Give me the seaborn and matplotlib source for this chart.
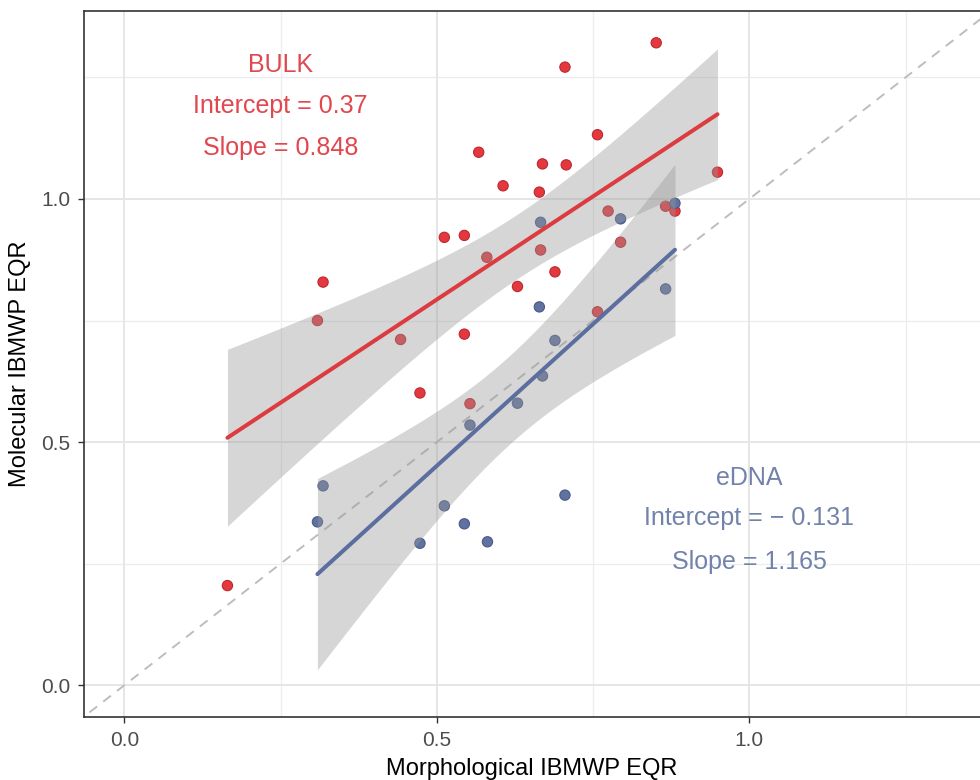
import numpy as np
import pandas as pd
import matplotlib
matplotlib.use("Agg")
import matplotlib.pyplot as plt
import seaborn as sns

# ---- data ----
bulk_morph = [0.165, 0.309, 0.318, 0.442, 0.473, 0.512, 0.544, 0.544, 0.553, 0.567,
              0.580, 0.606, 0.629, 0.664, 0.666, 0.669, 0.689, 0.705, 0.707, 0.757,
              0.757, 0.774, 0.794, 0.851, 0.866, 0.881, 0.949]
bulk_molec = [0.205, 0.750, 0.829, 0.711, 0.601, 0.921, 0.925, 0.722, 0.579, 1.096,
              0.880, 1.027, 0.820, 1.014, 0.895, 1.072, 0.850, 1.271, 1.070, 1.132,
              0.768, 0.975, 0.911, 1.321, 0.985, 0.975, 1.055]
edna_morph = [0.309, 0.318, 0.473, 0.512, 0.544, 0.553, 0.581, 0.629, 0.664, 0.666,
              0.669, 0.689, 0.705, 0.794, 0.866, 0.881]
edna_molec = [0.336, 0.410, 0.292, 0.369, 0.332, 0.535, 0.295, 0.580, 0.778, 0.952,
              0.636, 0.709, 0.391, 0.959, 0.815, 0.991]

groups = ["BULK", "eDNA"]
labels = {
    "BULK": ["BULK", "Intercept = 0.37", "Slope = 0.848"],
    "eDNA": ["eDNA", "Intercept = \u2212 0.131", "Slope = 1.165"],
}

point_col = {"BULK": "#E4383E", "eDNA": "#5F72A2"}
edge_col = {"BULK": "#B82A30", "eDNA": "#4A5A85"}
line_col = {"BULK": "#DC3C40", "eDNA": "#5B6E9F"}
text_col = {"BULK": "#E0474E", "eDNA": "#7282AB"}

df = pd.DataFrame({
    "morph": bulk_morph + edna_morph,
    "molec": bulk_molec + edna_molec,
    "method": ["BULK"] * len(bulk_morph) + ["eDNA"] * len(edna_morph),
})

sns.set_theme(style="white")
plt.rcParams["font.family"] = ["Liberation Sans", "DejaVu Sans"]

fig = plt.figure(figsize=(9.8, 7.8), dpi=100)
ax = fig.add_axes([84.3 / 980, 1 - 716.7 / 780, 1 - 84.3 / 980, (716.7 - 10.7) / 780])

xlim = (-0.064, 1.369)
ylim = (-0.0646, 1.387)
ax.set_xlim(*xlim)
ax.set_ylim(*ylim)

# grid
for v in [0.25, 0.75, 1.25]:
    ax.axvline(v, color="#EDEDED", lw=0.9, zorder=0)
    ax.axhline(v, color="#EDEDED", lw=0.9, zorder=0)
for v in [0.0, 0.5, 1.0]:
    ax.axvline(v, color="#E6E6E6", lw=1.4, zorder=0)
    ax.axhline(v, color="#E6E6E6", lw=1.4, zorder=0)

# identity line
ax.plot([-0.1, 1.5], [-0.1, 1.5], ls=(0, (5, 4)), color="#BDBDBD", lw=1.4, zorder=1.5)

# points
sns.scatterplot(data=df, x="morph", y="molec", hue="method", palette=point_col,
                s=55, linewidth=0.8, edgecolor=None, legend=False, ax=ax, zorder=2)
coll = ax.collections[-1]
coll.set_edgecolors([edge_col[m] for m in df["method"]])


def t_ppf975(nu):
    z = 1.959964
    return (z + (z**3 + z) / (4 * nu) + (5 * z**5 + 16 * z**3 + 3 * z) / (96 * nu**2)
            + (3 * z**7 + 19 * z**5 + 17 * z**3 - 15 * z) / (384 * nu**3))


for g in groups:
    sub = df[df["method"] == g]
    x = sub["morph"].to_numpy()
    y = sub["molec"].to_numpy()
    n = len(x)
    b1, b0 = np.polyfit(x, y, 1)
    resid = y - (b0 + b1 * x)
    s = np.sqrt(np.sum(resid**2) / (n - 2))
    xb = x.mean()
    sxx = np.sum((x - xb) ** 2)
    grid = np.linspace(x.min(), x.max(), 120)
    fit = b0 + b1 * grid
    se = s * np.sqrt(1 / n + (grid - xb) ** 2 / sxx)
    t = t_ppf975(n - 2)
    ax.fill_between(grid, fit - t * se, fit + t * se, color="#999999", alpha=0.4,
                    lw=0, zorder=3)
    sns.regplot(data=sub, x="morph", y="molec", scatter=False, ci=None, truncate=True,
                color=line_col[g], line_kws={"lw": 2.9, "zorder": 4}, ax=ax)

# annotations
for g, (xc, ys) in {"BULK": (0.25, [1.276, 1.192, 1.105]),
                    "eDNA": (1.0, [0.427, 0.343, 0.254])}.items():
    for txt, yy in zip(labels[g], ys):
        ax.text(xc, yy, txt, color=text_col[g], fontsize=18, ha="center",
                va="center", zorder=5)

ax.set_xticks([0.0, 0.5, 1.0])
ax.set_yticks([0.0, 0.5, 1.0])
ax.set_xticklabels(["0.0", "0.5", "1.0"])
ax.set_yticklabels(["0.0", "0.5", "1.0"])
ax.tick_params(axis="both", which="major", length=4, width=1, color="#333333",
               labelcolor="#4D4D4D", labelsize=15, direction="out",
               bottom=True, left=True, pad=6)
ax.set_xlabel("Morphological IBMWP EQR", fontsize=17, color="black", labelpad=6)
ax.set_ylabel("Molecular IBMWP EQR", fontsize=17, color="black", labelpad=7)

for side in ["left", "bottom", "top"]:
    ax.spines[side].set_color("#333333")
    ax.spines[side].set_linewidth(1.2)
ax.spines["right"].set_visible(False)

fig.savefig("out.png", dpi=100)
